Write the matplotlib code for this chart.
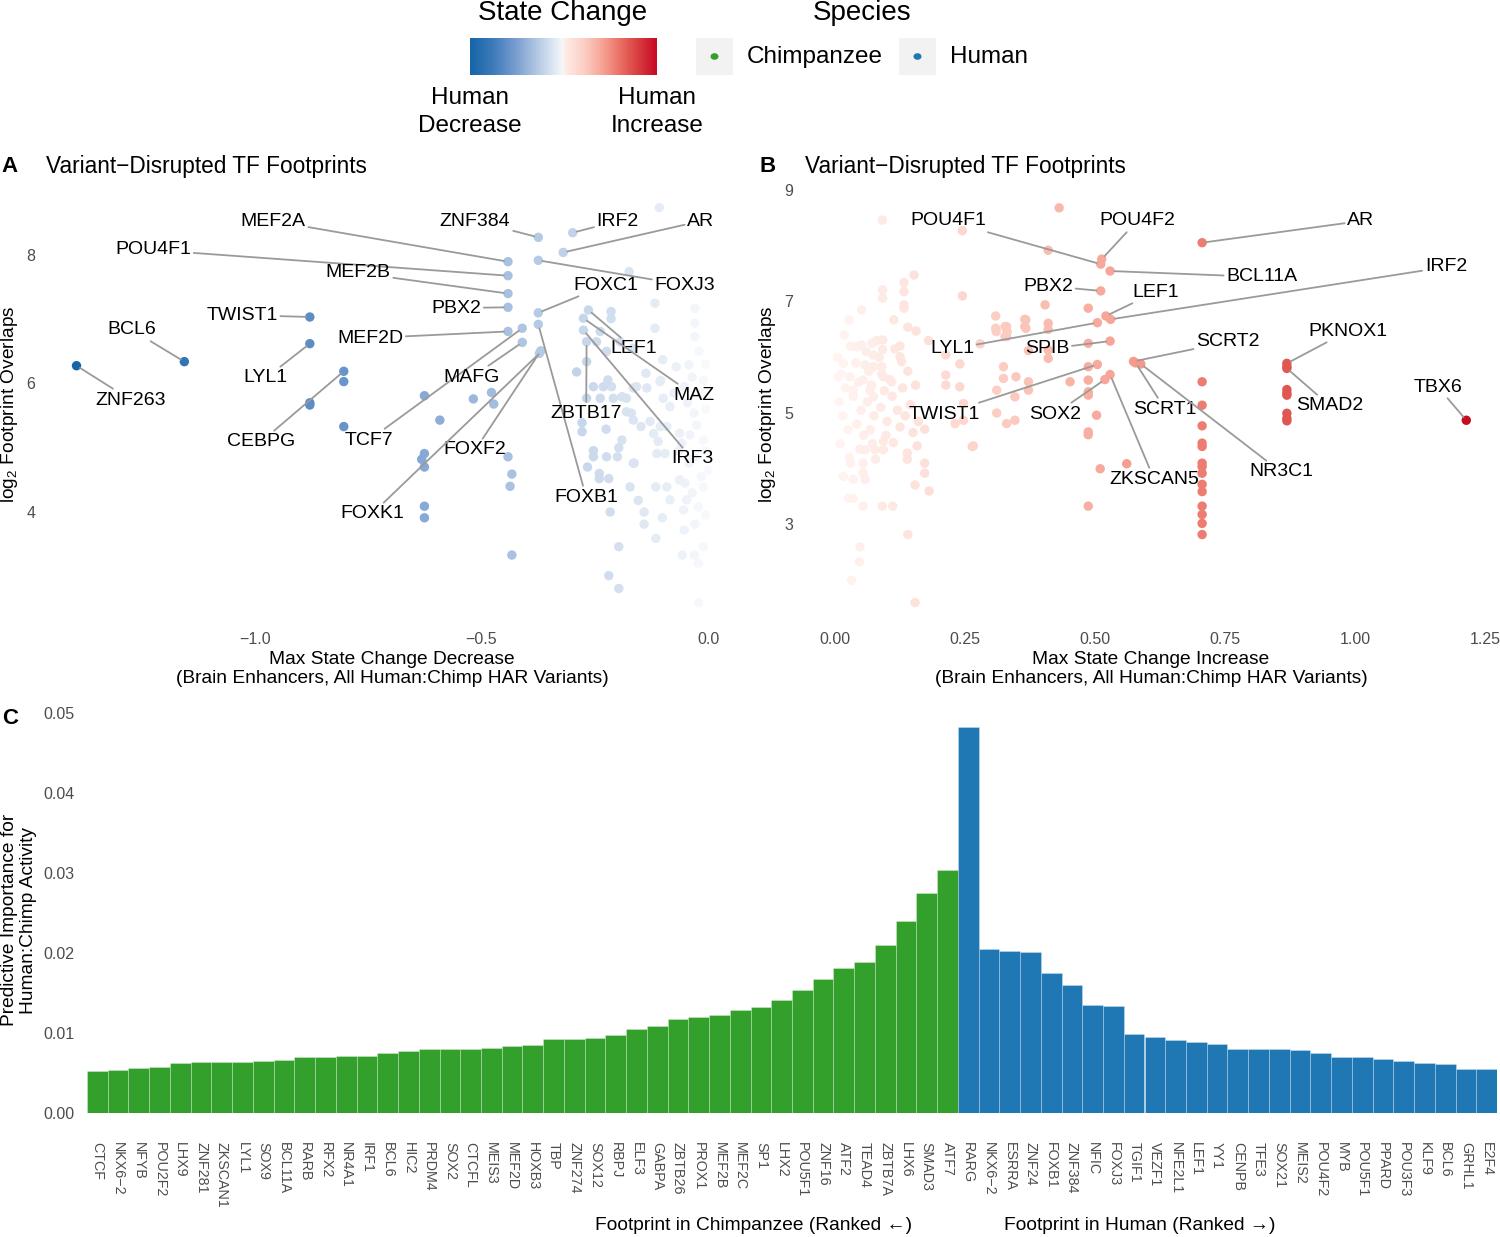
import numpy as np
import matplotlib
matplotlib.use("Agg")
import matplotlib.pyplot as plt
from matplotlib.colors import LinearSegmentedColormap
from matplotlib.patches import Rectangle, Circle

plt.rcParams['font.family'] = ['Liberation Sans', 'DejaVu Sans']
plt.rcParams['mathtext.fontset'] = 'custom'
plt.rcParams['mathtext.rm'] = 'Liberation Sans'

# ---------------- data: panel A (human decrease) ----------------
a_tf = ['ZNF263', 'BCL6', 'TWIST1', 'LYL1', 'CEBPG', 'MEF2A', 'POU4F1', 'MEF2B',
        'PBX2', 'MEF2D', 'ZNF384', 'IRF2', 'AR', 'FOXJ3', 'FOXC1', 'FOXB1',
        'FOXF2', 'FOXK1', 'TCF7', 'MAFG', 'LEF1', 'MAZ', 'IRF3', 'ZBTB17']
a_tf_change = [-1.394, -1.156, -0.879, -0.879, -0.804, -0.4415, -0.4415, -0.4415,
               -0.4415, -0.4415, -0.3746, -0.2987, -0.3197, -0.3746, -0.3746, -0.3746,
               -0.369, -0.372, -0.41, -0.41, -0.264, -0.275, -0.275, -0.268]
a_tf_overlap = [6.277, 6.34, 7.035, 6.62, 6.19, 7.896, 7.678, 7.40,
                7.186, 6.81, 8.275, 8.347, 8.04, 7.917, 7.10, 6.92,
                6.51, 6.47, 6.86, 6.64, 7.144, 7.015, 6.83, 6.65]
a_other = [(-0.879, 5.665), (-0.879, 5.70), (-0.804, 6.03), (-0.804, 5.33), (-0.626, 5.81),
           (-0.592, 5.43), (-0.518, 5.76), (-0.478, 5.86), (-0.473, 5.68), (-0.626, 4.91),
           (-0.632, 4.82), (-0.626, 4.70), (-0.4415, 4.86), (-0.433, 4.59), (-0.437, 4.40),
           (-0.626, 4.09), (-0.626, 3.91), (-0.433, 3.33),
           (-0.1075, 8.736), (-0.174, 7.74), (-0.117, 7.25), (-0.214, 7.12), (-0.214, 7.01),
           (-0.029, 7.17), (-0.117, 6.86), (-0.238, 6.81), (-0.246, 6.65), (-0.224, 6.50),
           (-0.194, 6.65), (-0.165, 6.55), (-0.29, 6.18), (-0.268, 6.34), (-0.253, 5.95),
           (-0.231, 5.95), (-0.213, 5.95), (-0.029, 6.94), (-0.029, 6.73),
           (-0.278, 5.39), (-0.278, 5.25), (-0.225, 5.29), (-0.253, 4.955), (-0.253, 4.86),
           (-0.224, 4.86), (-0.197, 5.0), (-0.266, 4.70), (-0.24, 4.60), (-0.24, 4.52),
           (-0.219, 4.52), (-0.165, 4.76), (-0.172, 4.39), (-0.154, 4.18), (-0.141, 4.0),
           (-0.141, 3.81), (-0.216, 4.0), (-0.101, 3.91), (-0.115, 4.39), (-0.091, 4.39),
           (-0.115, 3.59), (-0.197, 3.46), (-0.219, 3.01), (-0.197, 2.81), (-0.057, 3.33),
           (-0.03, 3.33), (-0.029, 3.81), (-0.021, 2.59),
           (-0.18, 5.56), (-0.165, 5.43), (-0.128, 5.41), (-0.12, 5.22), (-0.091, 5.33),
           (-0.11, 5.10), (-0.113, 4.91), (-0.058, 5.07), (-0.051, 4.45), (-0.047, 4.19),
           (-0.054, 4.03),
           (-0.1, 6.37), (-0.07, 6.26), (-0.042, 6.29), (-0.105, 6.05), (-0.0525, 5.95),
           (-0.0104, 6.05), (-0.084, 5.64), (-0.031, 5.54), (-0.105, 5.33), (-0.063, 5.225),
           (-0.0104, 5.12), (-0.095, 4.91), (-0.042, 4.76), (0.0, 4.65), (-0.063, 4.50),
           (-0.0104, 4.39), (-0.084, 4.19), (-0.021, 4.08), (-0.0525, 3.72), (-0.0104, 3.46),
           (-0.021, 3.20),
           (-0.221, 6.055), (-0.19, 5.795), (-0.158, 5.95), (-0.137, 6.16), (-0.169, 5.54),
           (-0.148, 5.33), (-0.19, 5.12), (-0.2, 4.86), (-0.163, 4.76),
           (-0.268, 5.77), (-0.238, 5.77), (-0.209, 5.77), (-0.18, 5.77), (-0.165, 5.93),
           (-0.135, 5.93), (-0.106, 6.03), (-0.099, 5.77),
           (-0.02, 6.5), (-0.005, 6.3), (-0.035, 6.1), (-0.015, 5.85), (-0.045, 5.7),
           (-0.005, 5.6), (-0.025, 5.35), (-0.04, 5.2), (-0.005, 4.95), (-0.03, 4.85),
           (-0.015, 4.55), (-0.035, 4.3), (-0.005, 3.95), (-0.075, 5.85), (-0.065, 4.95)]

# ---------------- data: panel B (human increase) ----------------
b_tf = ['POU4F1', 'POU4F2', 'AR', 'BCL11A', 'IRF2', 'LEF1', 'PBX2', 'LYL1', 'SPIB',
        'TWIST1', 'SOX2', 'ZKSCAN5', 'SCRT2', 'SCRT1', 'NR3C1', 'PKNOX1', 'SMAD2', 'TBX6']
b_tf_change = [0.511, 0.513, 0.706, 0.529, 0.53, 0.521, 0.511, 0.5045, 0.529,
               0.5045, 0.519, 0.529, 0.574, 0.578, 0.588, 0.869, 0.869, 1.214]
b_tf_overlap = [7.67, 7.76, 8.055, 7.547, 6.68, 6.74, 7.19, 6.62, 6.29,
                5.87, 5.60, 5.69, 5.925, 5.90, 5.88, 5.89, 5.80, 4.87]
b_other = [(0.431, 8.68), (0.41, 7.92), (0.091, 8.46), (0.245, 8.27), (0.152, 7.475),
           (0.1327, 7.34), (0.1327, 7.18), (0.0917, 7.21), (0.0917, 7.06), (0.245, 7.10),
           (0.1327, 6.94), (0.1327, 6.88), (0.051, 6.85), (0.113, 6.67), (0.14, 6.54),
           (0.156, 6.47), (0.027, 6.67), (0.18, 6.30), (0.0917, 6.31), (0.0917, 6.14),
           (0.071, 6.25), (0.051, 6.22), (0.042, 6.19), (0.125, 6.20), (0.125, 6.01),
           (0.128, 5.92), (0.213, 6.04), (0.24, 5.88), (0.279, 6.24), (0.309, 6.74),
           (0.309, 6.52), (0.327, 6.55), (0.331, 6.46), (0.327, 6.37), (0.367, 6.67),
           (0.367, 6.52), (0.31, 6.46),
           (0.074, 6.04), (0.058, 5.86), (0.074, 5.83), (0.09, 5.83), (0.093, 5.65),
           (0.054, 5.59), (0.029, 5.65), (0.035, 5.41), (0.067, 5.41), (0.074, 5.29),
           (0.109, 5.56), (0.016, 5.89), (0.006, 5.65),
           (0.213, 5.68), (0.213, 5.50), (0.24, 5.47), (0.324, 5.83), (0.324, 5.62),
           (0.348, 5.65), (0.372, 5.56), (0.372, 5.41), (0.311, 5.41), (0.346, 5.29),
           (0.346, 4.87), (0.231, 4.81), (0.247, 4.87), (0.247, 5.17), (0.311, 5.0),
           (0.33, 4.81), (0.266, 4.41), (0.1725, 4.71), (0.158, 4.41), (0.139, 4.28),
           (0.139, 4.17), (0.1725, 4.10), (0.1725, 3.92), (0.154, 3.71), (0.181, 3.60),
           (0.112, 4.47), (0.093, 4.49), (0.077, 4.34), (0.093, 4.34), (0.058, 4.34),
           (0.078, 4.17), (0.054, 4.10), (0.030, 4.10), (0.054, 3.93), (0.058, 3.81),
           (0.035, 3.81), (0.016, 3.86), (0.026, 3.47), (0.035, 3.47), (0.054, 3.33),
           (0.091, 3.33), (0.111, 3.33), (0.14, 2.82), (0.048, 2.60), (0.047, 2.33),
           (0.032, 2.00), (0.154, 1.60),
           (0.404, 6.94), (0.487, 6.88), (0.365, 6.68), (0.365, 6.55), (0.41, 6.61),
           (0.41, 6.50), (0.33, 6.55), (0.33, 6.37), (0.487, 6.25), (0.41, 6.13),
           (0.41, 5.98), (0.372, 6.12), (0.487, 5.83), (0.487, 5.59), (0.452, 5.56),
           (0.487, 5.38), (0.487, 5.32), (0.503, 4.96), (0.487, 4.66), (0.487, 4.61),
           (0.51, 4.0), (0.561, 4.09), (0.487, 3.33), (0.264, 4.40),
           (0.706, 5.56), (0.706, 5.14), (0.706, 4.77), (0.706, 4.46), (0.706, 4.40),
           (0.706, 4.10), (0.706, 4.04), (0.706, 3.92), (0.706, 3.72), (0.706, 3.59),
           (0.706, 3.33), (0.706, 3.18), (0.706, 3.02), (0.706, 2.82),
           (0.869, 5.83), (0.869, 5.42), (0.869, 5.36), (0.869, 5.32), (0.869, 4.995),
           (0.869, 4.905), (0.869, 4.86),
           (0.005, 6.0), (0.012, 5.7), (0.02, 5.45), (0.008, 5.2), (0.015, 4.95),
           (0.025, 4.7), (0.01, 4.45), (0.03, 6.2), (0.04, 5.9), (0.045, 5.55),
           (0.035, 5.3), (0.05, 5.05), (0.042, 4.8), (0.055, 4.6), (0.06, 6.1),
           (0.065, 5.75), (0.07, 5.5), (0.062, 5.2), (0.075, 4.95), (0.068, 4.7),
           (0.08, 6.3), (0.085, 6.0), (0.09, 5.7), (0.095, 5.4), (0.088, 5.1),
           (0.1, 4.85), (0.105, 5.6), (0.11, 5.3), (0.115, 6.15), (0.12, 5.05),
           (0.018, 6.4), (0.028, 4.2), (0.048, 4.35), (0.072, 4.45), (0.098, 4.6),
           (0.13, 5.45), (0.14, 5.75), (0.125, 4.75), (0.135, 4.95), (0.145, 5.15),
           (0.15, 4.65), (0.155, 5.5), (0.16, 4.85)]

# ---------------- data: panel C (predictive importance) ----------------
chimp_tf = ['CTCF', 'NKX6−2', 'NFYB', 'POU2F2', 'LHX9', 'ZNF281', 'ZKSCAN1', 'LYL1',
            'SOX9', 'BCL11A', 'RARB', 'RFX2', 'NR4A1', 'IRF1', 'BCL6', 'HIC2', 'PRDM4',
            'SOX2', 'CTCFL', 'MEIS3', 'MEF2D', 'HOXB3', 'TBP', 'ZNF274', 'SOX12', 'RBPJ',
            'ELF3', 'GABPA', 'ZBTB26', 'PROX1', 'MEF2B', 'MEF2C', 'SP1', 'LHX2', 'POU5F1',
            'ZNF16', 'ATF2', 'TEAD4', 'ZBTB7A', 'LHX6', 'SMAD3', 'ATF7']
chimp_imp = [0.00529, 0.00542, 0.00563, 0.00575, 0.00621, 0.00638, 0.00638, 0.00638,
             0.0065, 0.00667, 0.00696, 0.00696, 0.00713, 0.00713, 0.0075, 0.00775, 0.00796,
             0.00796, 0.00796, 0.00817, 0.00833, 0.00846, 0.00929, 0.00929, 0.00938, 0.00971,
             0.01046, 0.01092, 0.01179, 0.0120, 0.01221, 0.01292, 0.01325, 0.01408, 0.01538,
             0.01675, 0.01817, 0.01883, 0.0210, 0.02404, 0.0275, 0.03033]
human_tf = ['RARG', 'NKX6−2', 'ESRRA', 'ZNF24', 'FOXB1', 'ZNF384', 'NFIC', 'FOXJ3', 'TGIF1',
            'VEZF1', 'NFE2L1', 'LEF1', 'YY1', 'CENPB', 'TFE3', 'SOX21', 'MEIS2', 'POU4F2',
            'MYB', 'POU5F1', 'PPARD', 'POU3F3', 'KLF9', 'BCL6', 'GRHL1', 'E2F4']
human_imp = [0.04825, 0.0205, 0.02029, 0.02008, 0.0175, 0.01596, 0.0135, 0.01342, 0.00988,
             0.00946, 0.00908, 0.00892, 0.00863, 0.0080, 0.0080, 0.0080, 0.00783, 0.0075,
             0.0070, 0.0070, 0.00675, 0.00654, 0.00629, 0.00617, 0.00554, 0.00546]

# label placement (data coords of the label text)
a_text_pos = {'MEF2A': (-0.960, 8.529), 'POU4F1': (-1.225, 8.078), 'MEF2B': (-0.7726, 7.72),
              'TWIST1': (-1.0287, 7.066), 'BCL6': (-1.2715, 6.833), 'MEF2D': (-0.746, 6.708),
              'PBX2': (-0.556, 7.175), 'ZNF384': (-0.514, 8.529), 'IRF2': (-0.199, 8.529),
              'AR': (-0.0155, 8.529), 'FOXC1': (-0.225, 7.533), 'FOXJ3': (-0.0508, 7.533),
              'LYL1': (-0.976, 6.086), 'ZNF263': (-1.274, 5.743), 'MAFG': (-0.521, 6.10),
              'LEF1': (-0.163, 6.537), 'MAZ': (-0.031, 5.82), 'CEBPG': (-0.987, 5.09),
              'TCF7': (-0.748, 5.12), 'ZBTB17': (-0.269, 5.54), 'FOXF2': (-0.514, 4.965),
              'IRF3': (-0.035, 4.825), 'FOXB1': (-0.269, 4.233), 'FOXK1': (-0.742, 3.969)}
b_text_pos = {'POU4F1': (0.2173, 8.444), 'POU4F2': (0.581, 8.444), 'AR': (1.0115, 8.444),
              'IRF2': (1.175, 7.619), 'BCL11A': (0.821, 7.44), 'PBX2': (0.4096, 7.278),
              'LEF1': (0.617, 7.17), 'PKNOX1': (0.9865, 6.47), 'LYL1': (0.225, 6.148),
              'SPIB': (0.4077, 6.148), 'SCRT2': (0.7558, 6.274), 'TBX6': (1.1596, 5.466),
              'SMAD2': (0.952, 5.126), 'TWIST1': (0.2096, 4.982), 'SOX2': (0.423, 4.982),
              'SCRT1': (0.6346, 5.07), 'NR3C1': (0.8577, 3.942), 'ZKSCAN5': (0.6135, 3.816)}

W, H = 1500, 1237
fig = plt.figure(figsize=(W / 100, H / 100), dpi=100)


def box(l, t, r, b):
    return [l / W, 1 - b / H, (r - l) / W, (b - t) / H]


def ftext(px, py, s, **kw):
    return fig.text(px / W, 1 - py / H, s, **kw)


blues = LinearSegmentedColormap.from_list(
    'dec', ['#f7f9fc', '#b9cde6', '#7b9fd0', '#3f7bbb', '#1565a8'])
reds = LinearSegmentedColormap.from_list(
    'inc', [(0, '#fff5f2'), (0.25, '#fcd0c6'), (0.45, '#f6a294'), (0.6, '#ec776c'),
            (0.72, '#e05650'), (1, '#c80a23')])

tick_col = '#4d4d4d'
seg_col = '#9a9a9a'


def scatter_panel(ax, tf, tf_x, tf_y, other, text_pos, cmap, vmax):
    ox, oy = zip(*other)
    xs = np.concatenate([np.array(ox), np.array(tf_x)])
    ys = np.concatenate([np.array(oy), np.array(tf_y)])
    order = np.argsort(np.abs(xs))
    ax.scatter(xs[order], ys[order], c=np.abs(xs[order]), cmap=cmap, vmin=0, vmax=vmax,
               s=46, linewidths=0, zorder=2)
    for name, x, y in zip(tf, tf_x, tf_y):
        tx, ty = text_pos[name]
        ax.annotate(name, xy=(x, y), xytext=(tx, ty), ha='center', va='center',
                    fontsize=14, zorder=3,
                    arrowprops=dict(arrowstyle='-', color=seg_col, lw=1.3,
                                    shrinkA=0, shrinkB=3))
    for s in ax.spines.values():
        s.set_visible(False)
    ax.tick_params(length=0, labelsize=11.5, labelcolor=tick_col)


# ---- panel A
axA = fig.add_axes(box(45, 190, 740, 615))
scatter_panel(axA, a_tf, a_tf_change, a_tf_overlap, a_other, a_text_pos, blues, 1.4)
axA.set_xlim((45 - 708) / 453, (740 - 708) / 453)
axA.set_ylim(8 - (615 - 255) / 64.25, 8 + (255 - 190) / 64.25)
axA.set_xticks([-1.0, -0.5, 0.0], ['−1.0', '−0.5', '0.0'])
axA.set_yticks([4, 6, 8], ['4', '6', '8'])
axA.tick_params(axis='x', pad=12)
axA.tick_params(axis='y', pad=7)

# ---- panel B
axB = fig.add_axes(box(803, 190, 1498, 615))
scatter_panel(axB, b_tf, b_tf_change, b_tf_overlap, b_other, b_text_pos, reds, 1.214)
axB.set_xlim((803 - 835) / 520, (1498 - 835) / 520)
axB.set_ylim(9 - (615 - 190) / 55.75, 9)
axB.set_xticks([0, 0.25, 0.5, 0.75, 1.0, 1.25],
               ['0.00', '0.25', '0.50', '0.75', '1.00', '1.25'])
axB.set_yticks([3, 5, 7, 9], ['3', '5', '7', '9'])
axB.tick_params(axis='x', pad=12)
axB.tick_params(axis='y', pad=7)

# ---- panel C
axC = fig.add_axes(box(87, 713, 1497, 1113))
names = chimp_tf + human_tf
vals = chimp_imp + human_imp
cols = ['#33a02c'] * len(chimp_tf) + ['#1f78b4'] * len(human_tf)
pos = np.arange(len(names))
axC.bar(pos, vals, width=1.0, color=cols, edgecolor=(1, 1, 1, 0.3), linewidth=0.6)
axC.set_xlim(-0.5, len(names) - 0.5)
axC.set_ylim(0, 0.05)
axC.set_yticks([0, 0.01, 0.02, 0.03, 0.04, 0.05],
               ['0.00', '0.01', '0.02', '0.03', '0.04', '0.05'])
axC.set_xticks(pos)
axC.set_xticklabels(names, rotation=-90, va='top', ha='center')
axC.tick_params(length=0, labelsize=11.5, labelcolor=tick_col)
axC.tick_params(axis='x', labelsize=10.3, pad=21)
axC.tick_params(axis='y', pad=9)
for s in axC.spines.values():
    s.set_visible(False)

# ---- titles and axis labels
ftext(10, 166, 'A', fontsize=16, fontweight='bold', ha='center', va='center')
ftext(46, 166, 'Variant−Disrupted TF Footprints', fontsize=16.3, ha='left', va='center')
ftext(768, 166, 'B', fontsize=16, fontweight='bold', ha='center', va='center')
ftext(805, 166, 'Variant−Disrupted TF Footprints', fontsize=16.3, ha='left', va='center')
ftext(10, 718, 'C', fontsize=16, fontweight='bold', ha='center', va='center')

ftext(392, 669, 'Max State Change Decrease\n(Brain Enhancers, All Human:Chimp HAR Variants)',
      fontsize=13.8, ha='center', va='center', linespacing=1.2)
ftext(1151, 669, 'Max State Change Increase\n(Brain Enhancers, All Human:Chimp HAR Variants)',
      fontsize=13.8, ha='center', va='center', linespacing=1.2)
ftext(10, 404, r'$\mathregular{log_2}$ Footprint Overlaps', fontsize=13.8, rotation=90,
      ha='center', va='center')
ftext(768, 404, r'$\mathregular{log_2}$ Footprint Overlaps', fontsize=13.8, rotation=90,
      ha='center', va='center')
ftext(19, 920, 'Predictive Importance for\nHuman:Chimp Activity', fontsize=13.8,
      rotation=90, ha='center', va='center', linespacing=1.2)
ftext(754, 1226, 'Footprint in Chimpanzee (Ranked ←)', fontsize=13.8, ha='center', va='center')
ftext(1140, 1226, 'Footprint in Human (Ranked →)', fontsize=13.8, ha='center', va='center')

# ---- legend: state change colour bar
ftext(563, 13, 'State Change', fontsize=20, ha='center', va='center')
axCb = fig.add_axes(box(470, 38, 657, 75))
grad_l = blues(np.linspace(1, 0, 128))
grad_r = reds(np.linspace(0.05, 1, 128))
grad = np.vstack([grad_l, grad_r])[None, :, :]
axCb.imshow(grad, aspect='auto', extent=[0, 1, 0, 1])
axCb.set_axis_off()
ftext(470, 112, 'Human\nDecrease', fontsize=17.5, ha='center', va='center', linespacing=1.3)
ftext(657, 112, 'Human\nIncrease', fontsize=17.5, ha='center', va='center', linespacing=1.3)

# ---- legend: species
ftext(862, 13, 'Species', fontsize=20, ha='center', va='center')
for kx, col, lab in [(696, '#33a02c', 'Chimpanzee'), (899, '#1f78b4', 'Human')]:
    fig.patches.append(Rectangle((kx / W, 1 - 75 / H), 37 / W, 37 / H, transform=fig.transFigure,
                                 facecolor='#f2f2f2', edgecolor='none'))
    fig.patches.append(Circle(((kx + 18.5) / W, 1 - 56.5 / H), 4 / W, transform=fig.transFigure,
                              facecolor=col, edgecolor='none'))
    ftext(kx + 51, 57, lab, fontsize=17.5, ha='left', va='center')

fig.savefig('out.png', dpi=100, facecolor='white')
